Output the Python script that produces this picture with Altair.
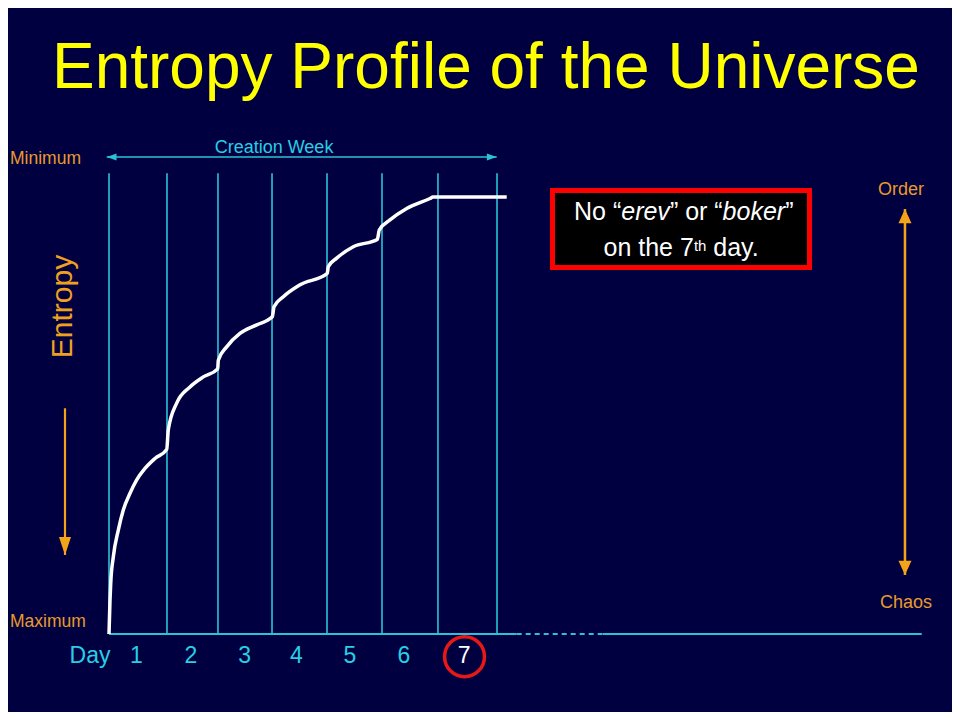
import altair as alt
import pandas as pd

# ---------------- data (x in "days", y in "order" level: 0 = maximum entropy, 1 = minimum) -------------
day_boundaries = [0.0, 1.046, 1.966, 2.941, 3.933, 4.925, 5.935, 7.0]
day_line_top = 0.966

day_labels = ["1", "2", "3", "4", "5", "6", "7"]
day_label_pos = [0.494, 1.479, 2.446, 3.381, 4.348, 5.322, 6.405]
day_label_colors = ["#26cfe3"] * 6 + ["#ffffff"]

curve_day = [0.0, 0.018, 0.031, 0.078, 0.168, 0.258, 0.379, 0.500, 0.649, 0.830, 1.041,
             1.070, 1.221, 1.461, 1.701, 1.961,
             1.972, 2.123, 2.363, 2.665, 2.946,
             2.977, 3.145, 3.446, 3.938,
             3.956, 4.108, 4.407, 4.840,
             4.876, 5.069, 5.371, 5.791, 5.845, 7.175]
curve_order = [0.0, 0.071, 0.106, 0.162, 0.218, 0.260, 0.295, 0.323, 0.347, 0.368, 0.387,
               0.428, 0.484, 0.518, 0.539, 0.556,
               0.574, 0.602, 0.630, 0.648, 0.665,
               0.686, 0.707, 0.732, 0.756,
               0.770, 0.788, 0.812, 0.827,
               0.847, 0.868, 0.892, 0.913, 0.916, 0.916]

baseline_solid_start = [0.0, 8.912]
baseline_solid_end = [7.355, 14.662]
baseline_dash_start = [7.355]
baseline_dash_end = [8.912]

# ---------------- styling -------------
BG = "#000040"
CYAN = "#2ac3d6"
CYAN_TXT = "#26cfe3"
ORANGE_TXT = "#e89a2c"
ORANGE = "#f5a418"
FONT = "Liberation Sans"

XS = alt.Scale(domain=[-1.8221, 15.2084], nice=False, zero=False)
YS = alt.Scale(domain=[-0.16352, 1.31237], nice=False, zero=False)


def ex(f="x"):
    return alt.X(f"{f}:Q", scale=XS, axis=None)


def ey(f="y"):
    return alt.Y(f"{f}:Q", scale=YS, axis=None)


def text(x, y, t, **kw):
    df = pd.DataFrame({"x": [x], "y": [y], "t": [t]})
    opts = dict(font=FONT)
    opts.update(kw)
    return alt.Chart(df).mark_text(**opts).encode(x=ex(), y=ey(), text="t:N")


def head(x, y, shape, size, color):
    df = pd.DataFrame({"x": [x], "y": [y]})
    return alt.Chart(df).mark_point(shape=shape, size=size, filled=True, fill=color,
                                    strokeWidth=0, opacity=1).encode(x=ex(), y=ey())


UP = "M0,0L-1,2.2L1,2.2Z"
DOWN = "M0,0L-1,-2.2L1,-2.2Z"
DOWN_LONG = "M0,0L-1,-3L1,-3Z"
LEFT = "M0,0L2.8,-1L2.8,1Z"
RIGHT = "M0,0L-2.8,-1L-2.8,1Z"

layers = []

# day separator lines
df_lines = pd.DataFrame({"x": day_boundaries, "y": [0.0] * len(day_boundaries),
                         "y2": [day_line_top] * len(day_boundaries)})
layers.append(alt.Chart(df_lines).mark_rule(color=CYAN, strokeWidth=1.6).encode(
    x=ex(), y=ey(), y2=alt.Y2("y2:Q")))

# baseline
df_bs = pd.DataFrame({"x": baseline_solid_start, "x2": baseline_solid_end, "y": [0.0, 0.0]})
layers.append(alt.Chart(df_bs).mark_rule(color=CYAN, strokeWidth=2).encode(
    x=ex(), x2=alt.X2("x2:Q"), y=ey()))
df_bd = pd.DataFrame({"x": baseline_dash_start, "x2": baseline_dash_end, "y": [0.0]})
layers.append(alt.Chart(df_bd).mark_rule(color=CYAN, strokeWidth=2, strokeDash=[5, 4]).encode(
    x=ex(), x2=alt.X2("x2:Q"), y=ey()))

# entropy curve
df_curve = pd.DataFrame({"x": curve_day, "y": curve_order})
layers.append(alt.Chart(df_curve).mark_line(color="white", strokeWidth=3.5,
                                            interpolate="monotone").encode(x=ex(), y=ey()))

# Creation Week arrow
df_cw = pd.DataFrame({"x": [-0.0415], "x2": [6.994], "y": [1.0]})
layers.append(alt.Chart(df_cw).mark_rule(color=CYAN, strokeWidth=1.6).encode(
    x=ex(), x2=alt.X2("x2:Q"), y=ey()))
layers.append(head(-0.0415, 1.0, LEFT, 49, CYAN))
layers.append(head(6.994, 1.0, RIGHT, 49, CYAN))
layers.append(text(2.977, 1.0084, "Creation Week", fontSize=18, color=CYAN_TXT,
                   align="center", baseline="alphabetic"))

# Order / Chaos arrow
df_oc = pd.DataFrame({"x": [14.36], "y": [0.1237], "y2": [0.891]})
layers.append(alt.Chart(df_oc).mark_rule(color=ORANGE, strokeWidth=2.5).encode(
    x=ex(), y=ey(), y2=alt.Y2("y2:Q")))
layers.append(head(14.36, 0.891, UP, 169, ORANGE))
layers.append(head(14.36, 0.1237, DOWN, 169, ORANGE))
layers.append(text(14.288, 0.9203, "Order", fontSize=18, color=ORANGE_TXT,
                   align="center", baseline="alphabetic"))
layers.append(text(14.379, 0.0545, "Chaos", fontSize=18, color=ORANGE_TXT,
                   align="center", baseline="alphabetic"))

# Entropy label and arrow
layers.append(text(-0.6675, 0.6866, "Entropy", fontSize=30, color="#f0a020",
                   align="center", baseline="alphabetic", angle=270))
df_ea = pd.DataFrame({"x": [-0.7938], "y": [0.1656], "y2": [0.4732]})
layers.append(alt.Chart(df_ea).mark_rule(color=ORANGE, strokeWidth=2.2).encode(
    x=ex(), y=ey(), y2=alt.Y2("y2:Q")))
layers.append(head(-0.7938, 0.1656, DOWN_LONG, 144, ORANGE))

# Minimum / Maximum
layers.append(text(-1.786, 0.9853, "Minimum", fontSize=17.5, color=ORANGE_TXT,
                   align="left", baseline="alphabetic"))
layers.append(text(-1.786, 0.0147, "Maximum", fontSize=17.5, color=ORANGE_TXT,
                   align="left", baseline="alphabetic"))

# Day labels
layers.append(text(-0.343, -0.0618, "Day", fontSize=23, color=CYAN_TXT,
                   align="center", baseline="alphabetic"))
df_days = pd.DataFrame({"x": day_label_pos, "y": [-0.0618] * 7, "t": day_labels,
                        "c": day_label_colors})
layers.append(alt.Chart(df_days).mark_text(font=FONT, fontSize=23, align="center",
                                           baseline="alphabetic").encode(
    x=ex(), y=ey(), text="t:N", color=alt.Color("c:N", scale=None)))

# red circle around day 7
df_circ = pd.DataFrame({"x": [6.414], "y": [-0.0476]})
layers.append(alt.Chart(df_circ).mark_point(shape="circle", size=1590, filled=False,
                                            color="#e81818", strokeWidth=3.5,
                                            opacity=1).encode(x=ex(), y=ey()))

# callout box
df_box = pd.DataFrame({"x": [8.001], "x2": [12.638], "y": [0.9298], "y2": [0.7683]})
layers.append(alt.Chart(df_box).mark_rect(fill="black", stroke="#ff0000",
                                          strokeWidth=5).encode(
    x=ex(), x2=alt.X2("x2:Q"), y=ey(), y2=alt.Y2("y2:Q")))
L1 = 0.8679
layers.append(text(8.389, L1, "No \u201c", fontSize=25, color="white", align="left",
                   baseline="alphabetic"))
layers.append(text(9.241, L1, "erev", fontSize=25, color="white", align="left",
                   baseline="alphabetic", fontStyle="italic"))
layers.append(text(10.119, L1, "\u201d or \u201c", fontSize=25, color="white", align="left",
                   baseline="alphabetic"))
layers.append(text(11.070, L1, "boker", fontSize=25, color="white", align="left",
                   baseline="alphabetic", fontStyle="italic"))
layers.append(text(12.199, L1, "\u201d", fontSize=25, color="white", align="left",
                   baseline="alphabetic"))
L2 = 0.7918
layers.append(text(8.921, L2, "on the 7", fontSize=25, color="white", align="left",
                   baseline="alphabetic"))
layers.append(text(10.552, 0.8023, "th", fontSize=15, color="white", align="left",
                   baseline="alphabetic"))
layers.append(text(10.902, L2, "day.", fontSize=25, color="white", align="left",
                   baseline="alphabetic"))

# title
layers.append(text(6.801, 1.1447, "Entropy Profile of the Universe", fontSize=64,
                   color="#ffff00", align="center", baseline="alphabetic"))

chart = alt.layer(*layers).properties(
    width=944, height=704, autosize="none", padding=0, background=BG
).configure_view(stroke=None)

chart.save("out.html", embed_options={"renderer": "svg", "actions": False})
